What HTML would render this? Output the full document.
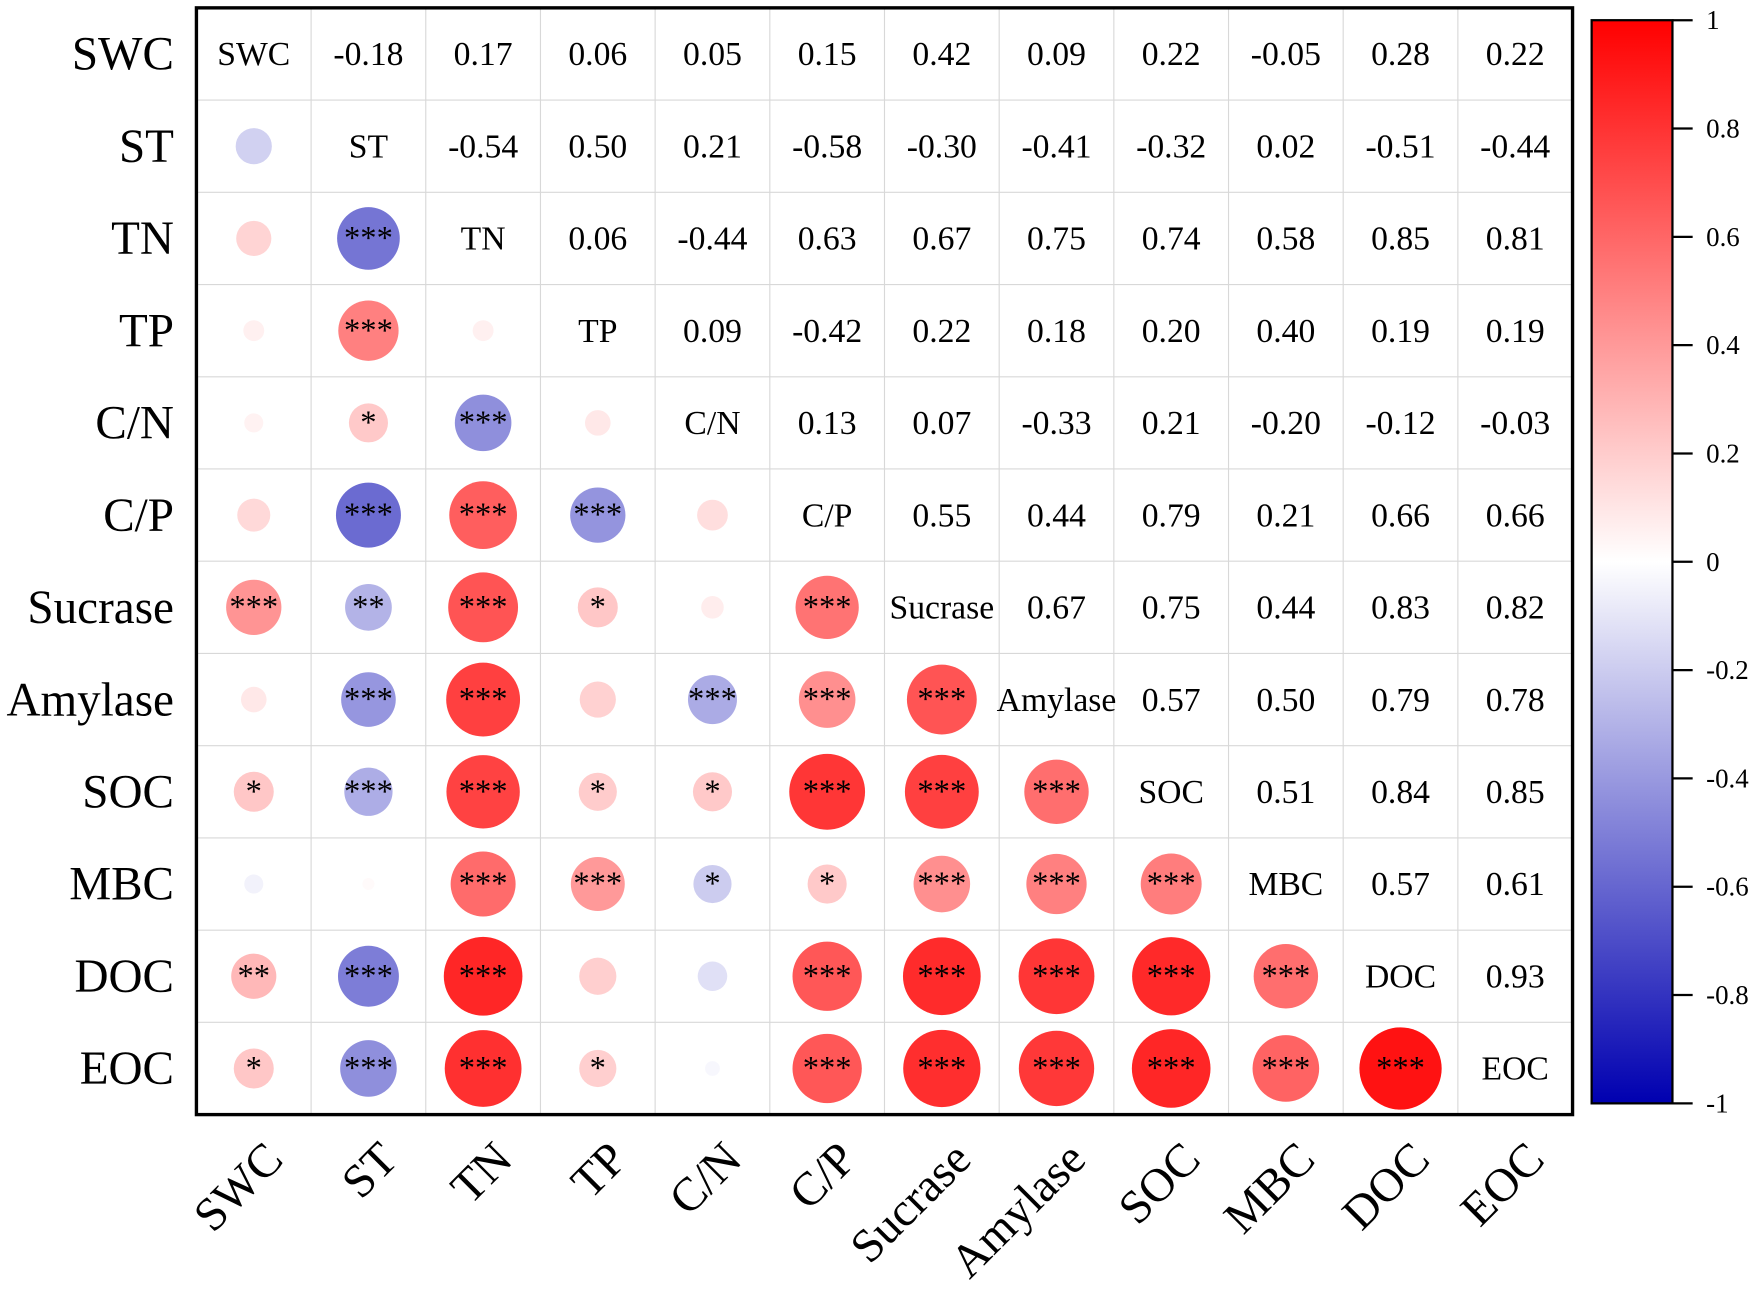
<!DOCTYPE html>
<html><head><meta charset="utf-8"><style>
html,body{margin:0;padding:0;background:#fff}
svg{display:block}
text{font-family:"Liberation Serif",serif}
</style></head><body>
<svg id="chart" width="1760" height="1298" viewBox="0 0 1568 1156.4" xmlns="http://www.w3.org/2000/svg">
<defs>
<linearGradient id="cbar" x1="0" y1="1" x2="0" y2="0">
<stop offset="0" stop-color="#0000b0"/><stop offset="0.5" stop-color="#ffffff"/><stop offset="1" stop-color="#ff0000"/>
</linearGradient>
</defs>
<g id="plot"></g>
</svg>
<script>
const labels=["SWC","ST","TN","TP","C/N","C/P","Sucrase","Amylase","SOC","MBC","DOC","EOC"];
const upperValues=[
[null,-0.18,0.17,0.06,0.05,0.15,0.42,0.09,0.22,-0.05,0.28,0.22],
[null,null,-0.54,0.50,0.21,-0.58,-0.30,-0.41,-0.32,0.02,-0.51,-0.44],
[null,null,null,0.06,-0.44,0.63,0.67,0.75,0.74,0.58,0.85,0.81],
[null,null,null,null,0.09,-0.42,0.22,0.18,0.20,0.40,0.19,0.19],
[null,null,null,null,null,0.13,0.07,-0.33,0.21,-0.20,-0.12,-0.03],
[null,null,null,null,null,null,0.55,0.44,0.79,0.21,0.66,0.66],
[null,null,null,null,null,null,null,0.67,0.75,0.44,0.83,0.82],
[null,null,null,null,null,null,null,null,0.57,0.50,0.79,0.78],
[null,null,null,null,null,null,null,null,null,0.51,0.84,0.85],
[null,null,null,null,null,null,null,null,null,null,0.57,0.61],
[null,null,null,null,null,null,null,null,null,null,null,0.93],
[]];
const stars=[
[],
[""],
["","***"],
["","***",""],
["","*","***",""],
["","***","***","***",""],
["***","**","***","*","","***"],
["","***","***","","***","***","***"],
["*","***","***","*","*","***","***","***"],
["","","***","***","*","*","***","***","***"],
["**","***","***","","","***","***","***","***","***"],
["*","***","***","*","","***","***","***","***","***","***"]];
const cbTicks=[1,0.8,0.6,0.4,0.2,0,-0.2,-0.4,-0.6,-0.8,-1];

const NS="http://www.w3.org/2000/svg";
const g=document.getElementById('plot');
const L=175,T=7,R=1401,B=993,n=labels.length;
const cw=(R-L)/n,ch=(B-T)/n;
const cx=j=>L+cw*(j+0.5), cy=i=>T+ch*(i+0.5);
const cbX=1418,cbW=72,cbTop=18,cbBot=983;
const cbY=v=>cbBot-(v+1)/2*(cbBot-cbTop);
function val(i,j){return i<j?upperValues[i][j]:upperValues[j][i];}
function color(v){
  const t=Math.min(1,Math.abs(v));
  if(v>=0){return `rgb(255,${Math.round(255*(1-t))},${Math.round(255*(1-t))})`;}
  return `rgb(${Math.round(255*(1-t))},${Math.round(255*(1-t))},${Math.round(255-(255-176)*t)})`;
}
function el(tag,attrs,txt){const e=document.createElementNS(NS,tag);for(const k in attrs)e.setAttribute(k,attrs[k]);if(txt!==undefined)e.textContent=txt;g.appendChild(e);return e;}
for(let k=1;k<n;k++){
  let e=el('line',{x1:L+cw*k,x2:L+cw*k,y1:T,y2:B,stroke:'#d8d8d8','stroke-width':1});
  
  e=el('line',{x1:L,x2:R,y1:T+ch*k,y2:T+ch*k,stroke:'#d8d8d8','stroke-width':1});
  
}
for(let i=0;i<n;i++){
  for(let j=0;j<n;j++){
    if(i===j){
      const t=el('text',{x:cx(j),y:cy(i)+10,'font-size':30,'text-anchor':'middle'},labels[i]);
      
    }else if(i<j){
      const v=val(i,j);
      const t=el('text',{x:cx(j),y:cy(i)+10,'font-size':30,'text-anchor':'middle'},v.toFixed(2));
      
    }else{
      const v=val(i,j);
      const r=Math.sqrt(Math.abs(v))*38;
      const c=el('circle',{cx:cx(j),cy:cy(i),r:r,fill:color(v)});
      
      const s=stars[i][j];
      if(s){const t=el('text',{x:cx(j),y:cy(i)+9,'font-size':29,'text-anchor':'middle'},s);
        }
    }
  }
  const rl=el('text',{x:155,y:cy(i)+14,'font-size':42,'text-anchor':'end'},labels[i]);
  
  const ax=cx(i)+28,ay=1035;
  const cl=el('text',{x:ax,y:ay,'font-size':42,'text-anchor':'end',transform:`rotate(-45 ${ax} ${ay})`},labels[i]);
  
}
let fr=el('rect',{x:L,y:T,width:R-L,height:B-T,fill:'none',stroke:'#000','stroke-width':3});

let cb=el('rect',{x:cbX,y:cbTop,width:cbW,height:cbBot-cbTop,fill:'url(#cbar)',stroke:'#000','stroke-width':2});

cbTicks.forEach(v=>{
  const y=cbY(v);
  const l=el('line',{x1:cbX+cbW,x2:cbX+cbW+18,y1:y,y2:y,stroke:'#000','stroke-width':2});
  
  const t=el('text',{x:1520,y:y+8,'font-size':24},String(v));
  
});
</script>
</body></html>
